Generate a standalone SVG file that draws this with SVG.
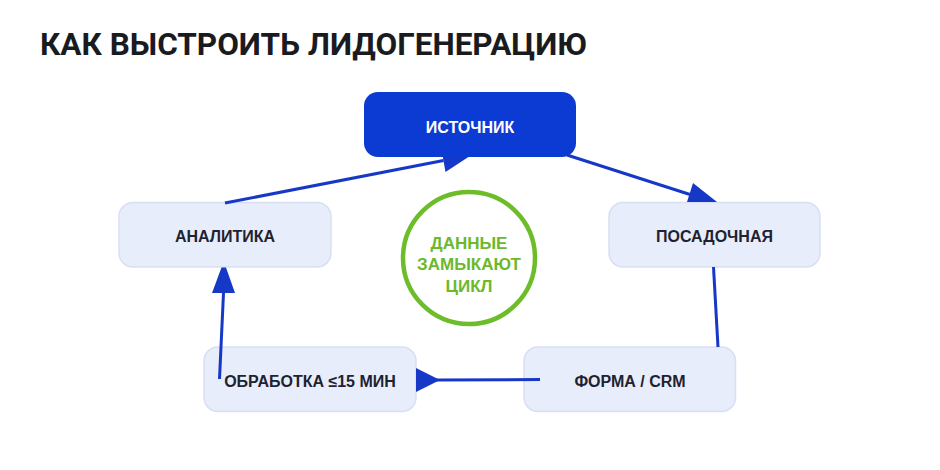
<svg xmlns="http://www.w3.org/2000/svg" width="940" height="470" viewBox="0 0 940 470">
  <style>
    .title { font-family: Roboto, "Liberation Sans", Arial, sans-serif; font-weight: 700; font-size: 31.5px; fill: #1a1b1f; }
    .box { fill: #e8edfb; stroke: #d8dff2; stroke-width: 1.5; }
    .box-main { fill: #0b3bd2; }
    .lbl { font-family: "Liberation Sans", Arial, sans-serif; font-weight: 700; font-size: 16px; fill: #1f2230; text-anchor: middle; }
    .lbl-main { font-family: "Liberation Sans", Arial, sans-serif; font-weight: 700; font-size: 16px; fill: #ffffff; text-anchor: middle; }
    .circ { fill: none; stroke: #6dbd2b; stroke-width: 4.5; }
    .circ-t { font-family: "Liberation Sans", Arial, sans-serif; font-weight: 700; font-size: 17px; fill: #6cb92a; text-anchor: middle; }
    .edge { stroke: #1638c6; stroke-width: 3; fill: none; stroke-linecap: butt; }
    .head { fill: #1638c6; stroke: none; }
  </style>

  <text class="title" x="40" y="55">КАК ВЫСТРОИТЬ ЛИДОГЕНЕРАЦИЮ</text>

  <g id="node-source">
    <rect class="box-main" x="364" y="92" width="212" height="65" rx="14"/>
    <text class="lbl-main" x="470" y="132.5">ИСТОЧНИК</text>
  </g>
  <g id="node-landing">
    <rect class="box" x="609" y="202.5" width="211" height="64.5" rx="14"/>
    <text class="lbl" x="714.5" y="241.5">ПОСАДОЧНАЯ</text>
  </g>
  <g id="node-form">
    <rect class="box" x="524" y="347" width="211.5" height="64.5" rx="14"/>
    <text class="lbl" x="630" y="386.5">ФОРМА / CRM</text>
  </g>
  <g id="node-processing">
    <rect class="box" x="204" y="347" width="212" height="64.5" rx="14"/>
    <text class="lbl" x="310" y="386.5">ОБРАБОТКА ≤15 МИН</text>
  </g>
  <g id="node-analytics">
    <rect class="box" x="119" y="202.5" width="212" height="64.5" rx="14"/>
    <text class="lbl" x="225" y="242">АНАЛИТИКА</text>
  </g>
  <g id="node-cycle">
    <circle class="circ" cx="469" cy="258" r="66"/>
    <text class="circ-t" x="469" y="248.5">ДАННЫЕ</text>
    <text class="circ-t" x="469" y="270">ЗАМЫКАЮТ</text>
    <text class="circ-t" x="469" y="291.5">ЦИКЛ</text>
  </g>

  <g id="connectors">
    <line class="edge" x1="567" y1="155" x2="690" y2="194.5"/>
    <polygon class="head" points="693,183 717,202 687,202"/>
    <line class="edge" x1="713.5" y1="267" x2="718" y2="347"/>
    <line class="edge" x1="540" y1="379.5" x2="436" y2="380"/>
    <polygon class="head" points="416,368 416,392 440,380"/>
    <line class="edge" x1="219.5" y1="379" x2="223.5" y2="293"/>
    <polygon class="head" points="212,293 235,293 226,267.5 221.5,267.5"/>
    <line class="edge" x1="225" y1="203" x2="443.5" y2="160.5"/>
    <polygon class="head" points="442.8,157 445.5,172 468.4,157"/>
  </g>
</svg>
